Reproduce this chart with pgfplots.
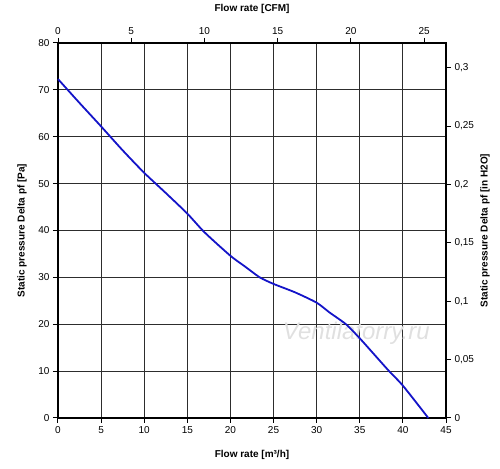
\documentclass[border=0pt]{standalone}
\usepackage{pgfplots}
\pgfplotsset{compat=1.18}
\usepackage{fontspec}
\setmainfont{Liberation Sans}
\definecolor{curve}{RGB}{20,20,200}
\definecolor{gridc}{RGB}{45,45,45}
\begin{document}
\begin{tikzpicture}[x=1pt,y=1pt]
\path[use as bounding box] (0,0) rectangle (500,468);
\begin{axis}[
  at={(58pt,50pt)}, anchor=south west,
  scale only axis, width=388pt, height=375pt,
  xmin=0, xmax=45, ymin=0, ymax=80,
  xtick={0,5,...,45}, ytick={0,10,...,80},
  xtick pos=bottom, ytick pos=left,
  tick align=outside, major tick length=5pt,
  grid=major,
  major grid style={gridc, line width=1.2pt},
  axis line style={black, line width=1.4pt},
  tick style={black, line width=1pt},
  /pgf/number format/assume math mode=true,
  tick label style={font=\fontsize{10}{12}\selectfont},
  label style={font=\bfseries\fontsize{10}{12}\selectfont},
  xlabel={Flow rate [m³/h]},
  ylabel={Static pressure Delta pf [Pa]},
  xlabel style={at={(axis description cs:0.5,-0.099)}, anchor=center},
  ylabel style={at={(axis description cs:-0.093,0.5)}, anchor=center},
  clip=false,
]
\node[font=\itshape\fontsize{24}{26}\selectfont, text=black!12] at (axis cs:34.6,18.1) {Ventilatorry.ru};
\addplot[curve, line width=1.8pt, smooth, tension=0.4] coordinates {
(0,72.3) (2.5,67.2) (5,62.2) (7.5,57.1) (10,52.3) (12.5,48.0) (15,43.6) (17,39.6)
(20,34.6) (21.7,32.3) (23.4,30.0) (25,28.6) (27.5,26.8) (30,24.6) (31.5,22.5)
(33.4,20) (35,17.0) (36.7,13.5) (38.4,10) (40,6.9) (42.95,0)
};
\end{axis}
\begin{axis}[
  at={(58pt,50pt)}, anchor=south west,
  scale only axis, width=388pt, height=375pt,
  xmin=0, xmax=26.486, ymin=0, ymax=0.32117,
  axis x line*=top, axis y line*=right,
  xtick={0,5,...,25},
  ytick={0,0.05,0.1,0.15,0.2,0.25,0.3},
  yticklabels={0,{0,05},{0,1},{0,15},{0,2},{0,25},{0,3}},
  tick align=outside, major tick length=5pt,
  axis line style={black, line width=1.4pt},
  tick style={black, line width=1pt},
  /pgf/number format/assume math mode=true,
  tick label style={font=\fontsize{10}{12}\selectfont},
  label style={font=\bfseries\fontsize{10}{12}\selectfont},
  xlabel={Flow rate [CFM]},
  ylabel={Static pressure Delta pf [in H2O]},
  xlabel style={at={(axis description cs:0.5,1.09)}, anchor=center},
  ylabel style={at={(axis description cs:1.1005,0.5)}, anchor=center, rotate=0},
]
\addplot[draw=none] coordinates {(0,0)};
\end{axis}
\end{tikzpicture}
\end{document}
